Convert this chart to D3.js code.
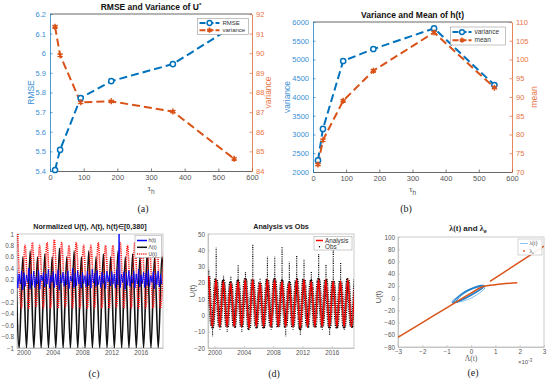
<!DOCTYPE html>
<html><head><meta charset="utf-8">
<script src="https://cdn.jsdelivr.net/npm/d3@7"></script>
<style>body{margin:0;background:#fff} svg{display:block} text{font-family:"Liberation Sans",Arial,sans-serif}</style>
</head><body><svg id="c" width="550" height="389"></svg>
<script>
// ---------------- DATA ----------------
const tauH   = [15, 30, 91, 182, 365, 547];
const rmse   = [5.405, 5.508, 5.772, 5.858, 5.945, 6.14];
const varU   = [91.35, 89.9, 87.5, 87.55, 87.03, 84.62];
const varH   = [2310, 3150, 4960, 5280, 5830, 4320];
const meanH  = [72, 78.5, 89, 97, 107.2, 92.5];
const ticksX600 = [0, 100, 200, 300, 400, 500, 600];
const ticksRMSE = [5.4, 5.5, 5.6, 5.7, 5.8, 5.9, 6, 6.1, 6.2];
const ticksVarU = [84, 85, 86, 87, 88, 89, 90, 91, 92];
const ticksVarH = [2000, 2500, 3000, 3500, 4000, 4500, 5000, 5500, 6000];
const ticksMean = [70, 75, 80, 85, 90, 95, 100, 105, 110];

const years = [1999,2000,2001,2002,2003,2004,2005,2006,2007,2008,2009,2010,2011,2012,2013,2014,2015,2016,2017,2018,2019];
const yearTicks = [2000, 2004, 2008, 2012, 2016];
// normalized U(t): seasonal peaks / troughs
const uNormPeak   = [1.0,0.8,0.85,0.8,0.85,0.9,0.85,0.8,0.85,0.8,0.8,0.85,0.8,0.8,0.85,0.8,0.85,0.85,0.8,0.9,0.9];
const uNormTrough = [-0.3,-0.3,-0.28,-0.3,-0.3,-0.3,-0.28,-0.3,-0.3,-0.3,-0.3,-0.3,-0.3,-0.28,-0.3,-0.3,-0.3,-0.3,-0.3,-0.3];
// normalized Lambda(t)
const lamPeak   = [0.7,0.6,0.7,0.6,0.65,0.6,0.75,0.6,0.7,0.6,0.7,0.6,0.65,0.6,0.7,0.6,0.65,0.6,0.7,0.6,0.6];
const lamTrough = [-1,-1,-1,-1,-1,-1,-1,-1,-1,-1,-1,-1,-1,-1,-1,-1,-1,-1,-1,-1,-1];
// normalized h(t), six samples per year
const hVals = [
 0.38,0.05,0.30,0.12,0.35,0.02, 0.32,0.08,0.28,0.15,0.40,0.04, 0.30,0.10,0.35,0.06,0.25,0.12,
 0.36,0.03,0.28,0.18,0.33,0.07, 0.30,0.12,0.38,0.05,0.27,0.15, 0.34,0.06,0.30,0.10,0.37,0.02,
 0.28,0.14,0.33,0.08,0.30,0.11, 0.35,0.04,0.26,0.17,0.40,0.06, 0.31,0.09,0.36,0.12,0.28,0.05,
 0.33,0.13,0.27,0.07,0.35,0.10, 0.29,0.05,0.38,0.14,0.31,0.08, 0.36,0.11,0.27,0.06,0.33,0.13,
 0.30,0.04,0.35,0.16,0.28,0.09, 0.34,0.12,0.30,0.05,0.37,0.11, 1.00,0.06,0.29,0.15,0.34,0.03,
 0.31,0.10,0.36,0.08,0.27,0.14, 0.35,0.05,0.30,0.12,0.38,0.07, 0.28,0.13,0.33,0.06,0.31,0.10,
 0.36,0.08,0.27,0.15,0.34,0.04, 0.30,0.11,0.35,0.07,0.29,0.12];
// Analysis U(t) peaks/troughs and observation extremes
const anPeak    = [24,22,21,20,21,22,22,20,22,22,21,20,22,22,21,22,22,21,21,22,22];
const anTrough  = [-7,-7,-7,-7,-7,-8,-7,-7,-7,-7,-7,-7,-8,-7,-7,-7,-7,-7,-7,-7];
const obsPeak   = [28,41.6,25,24,31.6,26.5,43.9,23,36,36,42,33,37,34.6,27,38,31,40,32.6,23,23];
const obsTrough = [-13,-9,-10,-8,-10,-8,-8,-7,-9,-7,-13,-9,-12,-8,-8,-9,-12,-8,-9,-8];
// panel (e): lambda(t) loops  [Lambda*1e3, U]
const loopA = [[-0.78,-8],[-0.6,0],[-0.3,9],[0.05,16],[0.35,20],[0.55,21],[0.5,17],[0.2,9],[-0.2,0],[-0.55,-6]];
const loopB = [[-0.7,-5],[-0.5,3],[-0.2,11],[0.1,16],[0.4,19],[0.5,18],[0.3,12],[0,5],[-0.35,-2],[-0.62,-6]];
const loopC = [[-0.65,-6],[-0.4,4],[-0.1,12],[0.2,17],[0.45,20],[0.48,16],[0.25,10],[-0.05,3],[-0.4,-3],[-0.6,-7]];
const loopE = [[-0.72,-7],[-0.55,2],[-0.25,11],[0.1,17],[0.4,21],[0.52,19],[0.35,13],[0.05,6],[-0.3,-2],[-0.6,-7]];
const loopF = [[-0.6,-4],[-0.45,4],[-0.15,12],[0.15,17],[0.42,20],[0.45,17],[0.2,11],[-0.1,4],[-0.4,-2],[-0.55,-5]];
const loopD = [[-0.75,-7],[-0.45,-6],[-0.05,-1],[0.3,7],[0.55,15],[0.5,21],[0.2,19],[-0.2,12],[-0.55,2],[-0.76,-4]];
const lamE1 = [[-3,-64],[-2,-40],[-1,-16],[0,8],[0.5,19],[1,22],[1.9,25]];
const lamE2 = [[0.78,27.5],[3,85]];
const ticksE_x = [-3,-2,-1,0,1,2,3];
const ticksE_y = [-80,-60,-40,-20,0,20,40,60,80,100];
const ticksC_y = [-1,-0.8,-0.6,-0.4,-0.2,0,0.2,0.4,0.6,0.8,1];
const ticksD_y = [-20,-10,0,10,20,30,40,50];

// ---------------- DRAW ----------------
const BLUE = "#0072BD", ORANGE = "#D95319";
const svg = d3.select("#c");

function styleAxis(g, col, txtCol, fs){
  g.select(".domain").attr("stroke", col).attr("stroke-width", 0.7);
  g.selectAll(".tick line").attr("stroke", col).attr("stroke-width", 0.6);
  g.selectAll(".tick text").attr("fill", txtCol).style("font-size", fs + "px").style("font-family", '"Liberation Sans",Arial,sans-serif');
}
function hline(x0, x1, y, col){ svg.append("line").attr("x1",x0).attr("x2",x1).attr("y1",y).attr("y2",y).attr("stroke",col).attr("stroke-width",0.7); }
function clip(id, x0, x1, y0, y1){
  svg.append("clipPath").attr("id", id).append("rect").attr("x",x0).attr("y",y0).attr("width",x1-x0).attr("height",y1-y0);
  return svg.append("g").attr("clip-path", `url(#${id})`);
}
function asterisk(g, x, y, r, col){
  const p = d3.path();
  for (let k = 0; k < 3; k++){ const a = Math.PI/2 + k*Math.PI/3; p.moveTo(x - r*Math.cos(a), y - r*Math.sin(a)); p.lineTo(x + r*Math.cos(a), y + r*Math.sin(a)); }
  g.append("path").attr("d", p.toString()).attr("stroke", col).attr("stroke-width", 1.5).attr("fill","none");
}

// ---- dual axis panel (a)/(b) ----
function dualPanel(o){
  const x = d3.scaleLinear([0,600],[o.x0,o.x1]);
  const yL = d3.scaleLinear(o.dL,[o.y1,o.y0]);
  const yR = d3.scaleLinear(o.dR,[o.y1,o.y0]);
  hline(o.x0, o.x1, o.y0, "#262626");
  svg.append("g").attr("transform",`translate(0,${o.y1})`)
    .call(d3.axisBottom(x).tickValues(ticksX600).tickSizeInner(-2.5).tickSizeOuter(0).tickPadding(4))
    .call(g=>styleAxis(g,"#262626","#555",7.5));
  svg.append("g").attr("transform",`translate(${o.x0},0)`)
    .call(d3.axisLeft(yL).tickValues(o.tL).tickFormat(d3.format("")).tickSizeInner(-2.5).tickSizeOuter(0).tickPadding(4))
    .call(g=>styleAxis(g,BLUE,"#3b8fd4",7.5));
  svg.append("g").attr("transform",`translate(${o.x1},0)`)
    .call(d3.axisRight(yR).tickValues(o.tR).tickSizeInner(-2.5).tickSizeOuter(0).tickPadding(4))
    .call(g=>styleAxis(g,ORANGE,"#e8733f",7.5));
  const ln = (ys, sc) => d3.line().x((d,i)=>x(tauH[i])).y(d=>sc(d))(ys);
  const g = svg.append("g");
  g.append("path").attr("d", ln(o.sL, yL)).attr("fill","none").attr("stroke",BLUE).attr("stroke-width",2).attr("stroke-dasharray","8,4");
  g.append("path").attr("d", ln(o.sR, yR)).attr("fill","none").attr("stroke",ORANGE).attr("stroke-width",2).attr("stroke-dasharray","8,4");
  o.sL.forEach((d,i)=> g.append("circle").attr("cx",x(tauH[i])).attr("cy",yL(d)).attr("r",2.6).attr("fill","#fff").attr("stroke",BLUE).attr("stroke-width",1.5));
  o.sR.forEach((d,i)=> asterisk(g, x(tauH[i]), yR(d), 3, ORANGE));
  const tt = svg.append("text").attr("x",(o.x0+o.x1)/2).attr("y",o.titleY).attr("text-anchor","middle").style("font-size","8.5px").style("font-weight","bold").attr("fill","#111").text(o.title);
  if (o.titleSup) tt.append("tspan").attr("dy",-3).style("font-size","6px").text(o.titleSup);
  svg.append("text").attr("transform",`translate(${o.lLabX},${(o.y0+o.y1)/2}) rotate(-90)`).attr("text-anchor","middle").style("font-size","8.5px").attr("fill","#3b8fd4").text(o.lLab);
  svg.append("text").attr("transform",`translate(${o.rLabX},${(o.y0+o.y1)/2}) rotate(-90)`).attr("text-anchor","middle").style("font-size","8.5px").attr("fill","#e8733f").text(o.rLab);
  const xl = svg.append("text").attr("x",(o.x0+o.x1)/2).attr("y",o.y1+20).attr("text-anchor","middle").style("font-size","9px").style("font-family",'"Liberation Serif",serif').attr("fill","#555").text("τ");
  xl.append("tspan").attr("dy",2.5).style("font-size","6.5px").style("font-family",'"Liberation Sans",sans-serif').text("h");
  const L = o.leg;
  svg.append("rect").attr("x",L.x).attr("y",L.y).attr("width",L.w).attr("height",L.h).attr("fill","#fff").attr("stroke","#999").attr("stroke-width",0.6);
  const ly1 = L.y + L.h*0.28, ly2 = L.y + L.h*0.73;
  svg.append("line").attr("x1",L.x+2).attr("x2",L.x+2+L.lw).attr("y1",ly1).attr("y2",ly1).attr("stroke",BLUE).attr("stroke-width",2).attr("stroke-dasharray","6,2");
  svg.append("circle").attr("cx",L.x+2+L.lw/2).attr("cy",ly1).attr("r",2.4).attr("fill","#fff").attr("stroke",BLUE).attr("stroke-width",1.5);
  svg.append("line").attr("x1",L.x+2).attr("x2",L.x+2+L.lw).attr("y1",ly2).attr("y2",ly2).attr("stroke",ORANGE).attr("stroke-width",2).attr("stroke-dasharray","6,2");
  asterisk(svg, L.x+2+L.lw/2, ly2, 2.6, ORANGE);
  svg.append("text").attr("x",L.x+L.lw+5).attr("y",ly1+2.3).style("font-size",L.fs+"px").attr("fill","#333").text(o.names[0]);
  svg.append("text").attr("x",L.x+L.lw+5).attr("y",ly2+2.3).style("font-size",L.fs+"px").attr("fill","#333").text(o.names[1]);
}

dualPanel({x0:50,x1:252,y0:14,y1:171,dL:[5.4,6.2],dR:[84,92],tL:ticksRMSE,tR:ticksVarU,sL:rmse,sR:varU,
  title:"RMSE and Variance of U",titleSup:"*",titleY:10,lLab:"RMSE",lLabX:34,rLab:"variance",rLabX:271,
  names:["RMSE","variance"],leg:{x:197.5,y:18.5,w:51,h:16,lw:20,fs:6}});
dualPanel({x0:313,x1:512,y0:22,y1:172,dL:[2000,6000],dR:[70,110],tL:ticksVarH,tR:ticksMean,sL:varH,sR:meanH,
  title:"Variance and Mean of h(t)",titleY:17.5,lLab:"variance",lLabX:290,rLab:"mean",rLabX:537,
  names:["variance","mean"],leg:{x:450.5,y:27,w:55,h:18,lw:19,fs:6.5}});

// ---- time panels (c),(d) ----
const TDOM = [1999.1, 2019.05];
function timeAxes(x0,x1,y0,y1,yDom,yTicks,fmt){
  const x = d3.scaleLinear(TDOM,[x0,x1]);
  const y = d3.scaleLinear(yDom,[y1,y0]);
  svg.append("rect").attr("x",x0).attr("y",y0).attr("width",x1-x0).attr("height",y1-y0).attr("fill","none").attr("stroke","#b5b5b5").attr("stroke-width",0.7);
  svg.append("g").attr("transform",`translate(0,${y1})`)
    .call(d3.axisBottom(x).tickValues(yearTicks).tickFormat(d3.format("d")).tickSizeInner(-2).tickSizeOuter(0).tickPadding(3))
    .call(g=>styleAxis(g,"#b5b5b5","#555",6.3));
  svg.append("g").attr("transform",`translate(${x0},0)`)
    .call(d3.axisLeft(y).tickValues(yTicks).tickFormat(fmt).tickSizeInner(-2).tickSizeOuter(0).tickPadding(3))
    .call(g=>styleAxis(g,"#b5b5b5","#555",6.3));
  return {x,y};
}
function seasonal(peaks, troughs, pOff, tOff){
  const pts = [];
  years.forEach((yr,i)=>{
    if (peaks[i] !== undefined) pts.push([yr+pOff, peaks[i]]);
    if (troughs[i] !== undefined) pts.push([yr+tOff, troughs[i]]);
  });
  return pts.sort((a,b)=>a[0]-b[0]);
}

// (c)
{
  const {x,y} = timeAxes(17,163,234,348,[-1,1],ticksC_y,d3.format(""));
  const g = clip("clipC",17,163,234,348);
  const lineM = d3.line().x(d=>x(d[0])).y(d=>y(d[1])).curve(d3.curveMonotoneX);
  g.append("path").attr("d", lineM(seasonal(lamPeak, lamTrough, -0.1, 0.4))).attr("fill","none").attr("stroke","#111").attr("stroke-width",1.6);
  g.append("path").attr("d", lineM(seasonal(uNormPeak, uNormTrough, 0.2, 0.7))).attr("fill","none").attr("stroke","#ff1010").attr("stroke-width",1.6).attr("stroke-dasharray","1,0.9");
  g.append("path").attr("d", d3.line().x((d,i)=>x(1999 + i/6 + 0.05)).y(d=>y(d))(hVals)).attr("fill","none").attr("stroke","#0000ff").attr("stroke-width",0.9);
  svg.append("text").attr("x",90).attr("y",229).attr("text-anchor","middle").style("font-size","7.2px").style("font-weight","bold").attr("fill","#222").text("Normalized U(t), Λ(t), h(t)∈[0,380]");
  svg.append("rect").attr("x",135).attr("y",235.5).attr("width",26.5).attr("height",22).attr("fill","#fff").attr("stroke","#999").attr("stroke-width",0.5);
  const items = [["h(t)","#0000ff",null],["Λ(t)","#111",null],["U(t)","#ff1010","1,0.9"]];
  items.forEach((it,k)=>{
    const yy = 240.5 + k*6.8;
    const l = svg.append("line").attr("x1",137).attr("x2",147).attr("y1",yy).attr("y2",yy).attr("stroke",it[1]).attr("stroke-width",1.5);
    if (it[2]) l.attr("stroke-dasharray",it[2]);
    svg.append("text").attr("x",148.5).attr("y",yy+1.8).style("font-size","5px").attr("fill","#333").text(it[0]);
  });
}

// (d)
{
  const {x,y} = timeAxes(208,354,234,348,[-20,50],ticksD_y,d3.format("d"));
  const g = clip("clipD",208,354,234,348);
  const anPts = seasonal(anPeak, anTrough, 0.2, 0.7);
  const lineM = d3.line().x(d=>x(d[0])).y(d=>y(d[1])).curve(d3.curveMonotoneX);
  g.append("path").attr("d", lineM(anPts)).attr("fill","none").attr("stroke","#000").attr("stroke-width",3.4).attr("stroke-dasharray","0.9,0.9");
  years.forEach((yr,i)=>{
    if (obsPeak[i] !== undefined) g.append("line").attr("x1",x(yr+0.22)).attr("x2",x(yr+0.22)).attr("y1",y(anPeak[i]-6)).attr("y2",y(obsPeak[i])).attr("stroke","#000").attr("stroke-width",1.2).attr("stroke-dasharray","0.9,0.9");
    if (obsTrough[i] !== undefined) g.append("line").attr("x1",x(yr+0.72)).attr("x2",x(yr+0.72)).attr("y1",y(anTrough[i]+2)).attr("y2",y(obsTrough[i])).attr("stroke","#000").attr("stroke-width",1.1).attr("stroke-dasharray","0.9,0.9");
  });
  g.append("path").attr("d", lineM(anPts)).attr("fill","none").attr("stroke","#ff0000").attr("stroke-width",1.5);
  svg.append("text").attr("x",281).attr("y",229).attr("text-anchor","middle").style("font-size","7.2px").style("font-weight","bold").attr("fill","#222").text("Analysis vs Obs");
  svg.append("text").attr("transform","translate(195,291) rotate(-90)").attr("text-anchor","middle").style("font-size","7.5px").attr("fill","#555").text("U(t)");
  svg.append("rect").attr("x",314).attr("y",236.5).attr("width",38).attr("height",13.5).attr("fill","#fff").attr("stroke","#999").attr("stroke-width",0.5);
  svg.append("line").attr("x1",316).attr("x2",323).attr("y1",240.5).attr("y2",240.5).attr("stroke","#ff0000").attr("stroke-width",1.5);
  svg.append("circle").attr("cx",319.5).attr("cy",246.8).attr("r",0.7).attr("fill","#000");
  svg.append("text").attr("x",325).attr("y",242.6).style("font-size","6.3px").attr("fill","#333").text("Analysis");
  svg.append("text").attr("x",325).attr("y",249).style("font-size","6.3px").attr("fill","#333").text("Obs");
}

// (e)
{
  const x0=398,x1=544,y0=237,y1=347;
  const x = d3.scaleLinear([-3,3],[x0,x1]);
  const y = d3.scaleLinear([-80,100],[y1,y0]);
  svg.append("rect").attr("x",x0).attr("y",y0).attr("width",x1-x0).attr("height",y1-y0).attr("fill","none").attr("stroke","#b5b5b5").attr("stroke-width",0.7);
  svg.append("g").attr("transform",`translate(0,${y1})`)
    .call(d3.axisBottom(x).tickValues(ticksE_x).tickFormat(d3.format("d")).tickSizeInner(-2).tickSizeOuter(0).tickPadding(3))
    .call(g=>styleAxis(g,"#b5b5b5","#555",6.3));
  svg.append("g").attr("transform",`translate(${x0},0)`)
    .call(d3.axisLeft(y).tickValues(ticksE_y).tickFormat(d3.format("d")).tickSizeInner(-2).tickSizeOuter(0).tickPadding(3))
    .call(g=>styleAxis(g,"#b5b5b5","#555",6.3));
  const g = clip("clipE",x0,x1,y0,y1);
  const loopLine = d3.line().x(d=>x(d[0])).y(d=>y(d[1])).curve(d3.curveCardinalClosed.tension(0.3));
  g.append("path").attr("d", loopLine(loopD)).attr("fill","none").attr("stroke","#6cb6ea").attr("stroke-width",0.9);
  [loopA, loopB, loopC, loopE, loopF].forEach(L => g.append("path").attr("d", loopLine(L)).attr("fill","none").attr("stroke","#1f7fcc").attr("stroke-width",0.8));
  const lm = d3.line().x(d=>x(d[0])).y(d=>y(d[1])).curve(d3.curveMonotoneX);
  g.append("path").attr("d", lm(lamE1)).attr("fill","none").attr("stroke",ORANGE).attr("stroke-width",1.5);
  g.append("path").attr("d", lm(lamE2)).attr("fill","none").attr("stroke",ORANGE).attr("stroke-width",1.5);
  const tt = svg.append("text").attr("x",468).attr("y",231).attr("text-anchor","middle").style("font-size","8px").style("font-weight","bold").attr("fill","#222");
  tt.append("tspan").style("font-family",'"Liberation Serif",serif').text("λ(t)");
  tt.append("tspan").text(" and  ");
  tt.append("tspan").style("font-family",'"Liberation Serif",serif').text("λ");
  tt.append("tspan").attr("dy",2).style("font-size","5.5px").text("e");
  svg.append("text").attr("transform","translate(381,297) rotate(-90)").attr("text-anchor","middle").style("font-size","7.5px").attr("fill","#555").text("U(t)");
  svg.append("text").attr("x",471).attr("y",361).attr("text-anchor","middle").style("font-size","7.5px").style("font-family",'"Liberation Serif",serif').attr("fill","#555").text("Λ(t)");
  const ex = svg.append("text").attr("x",518).attr("y",364).style("font-size","6px").attr("fill","#555").text("×10");
  ex.append("tspan").attr("dy",-2.5).style("font-size","4.5px").text("-3");
  svg.append("rect").attr("x",518).attr("y",239).attr("width",24).attr("height",16).attr("fill","#fff").attr("fill-opacity",0.9).attr("stroke","#aaa").attr("stroke-width",0.5);
  svg.append("line").attr("x1",520).attr("x2",528).attr("y1",243.5).attr("y2",243.5).attr("stroke","#6cb6ea").attr("stroke-width",0.8);
  svg.append("circle").attr("cx",524).attr("cy",251).attr("r",0.9).attr("fill",ORANGE);
  svg.append("text").attr("x",529.5).attr("y",245.2).style("font-size","5.5px").style("font-family",'"Liberation Serif",serif').attr("fill","#444").text("λ(t)");
  const le = svg.append("text").attr("x",529.5).attr("y",252.5).style("font-size","5.5px").style("font-family",'"Liberation Serif",serif').attr("fill","#444").text("λ");
  le.append("tspan").attr("dy",1.5).style("font-size","4px").text("e");
}

// sub-figure labels
[["(a)",143,212],["(b)",406,212],["(c)",94,377],["(d)",274,377],["(e)",473,376]].forEach(l=>{
  svg.append("text").attr("x",l[1]).attr("y",l[2]).attr("text-anchor","middle").style("font-size","10px").style("font-family",'"Liberation Serif",serif').attr("fill","#222").text(l[0]);
});
</script></body></html>
